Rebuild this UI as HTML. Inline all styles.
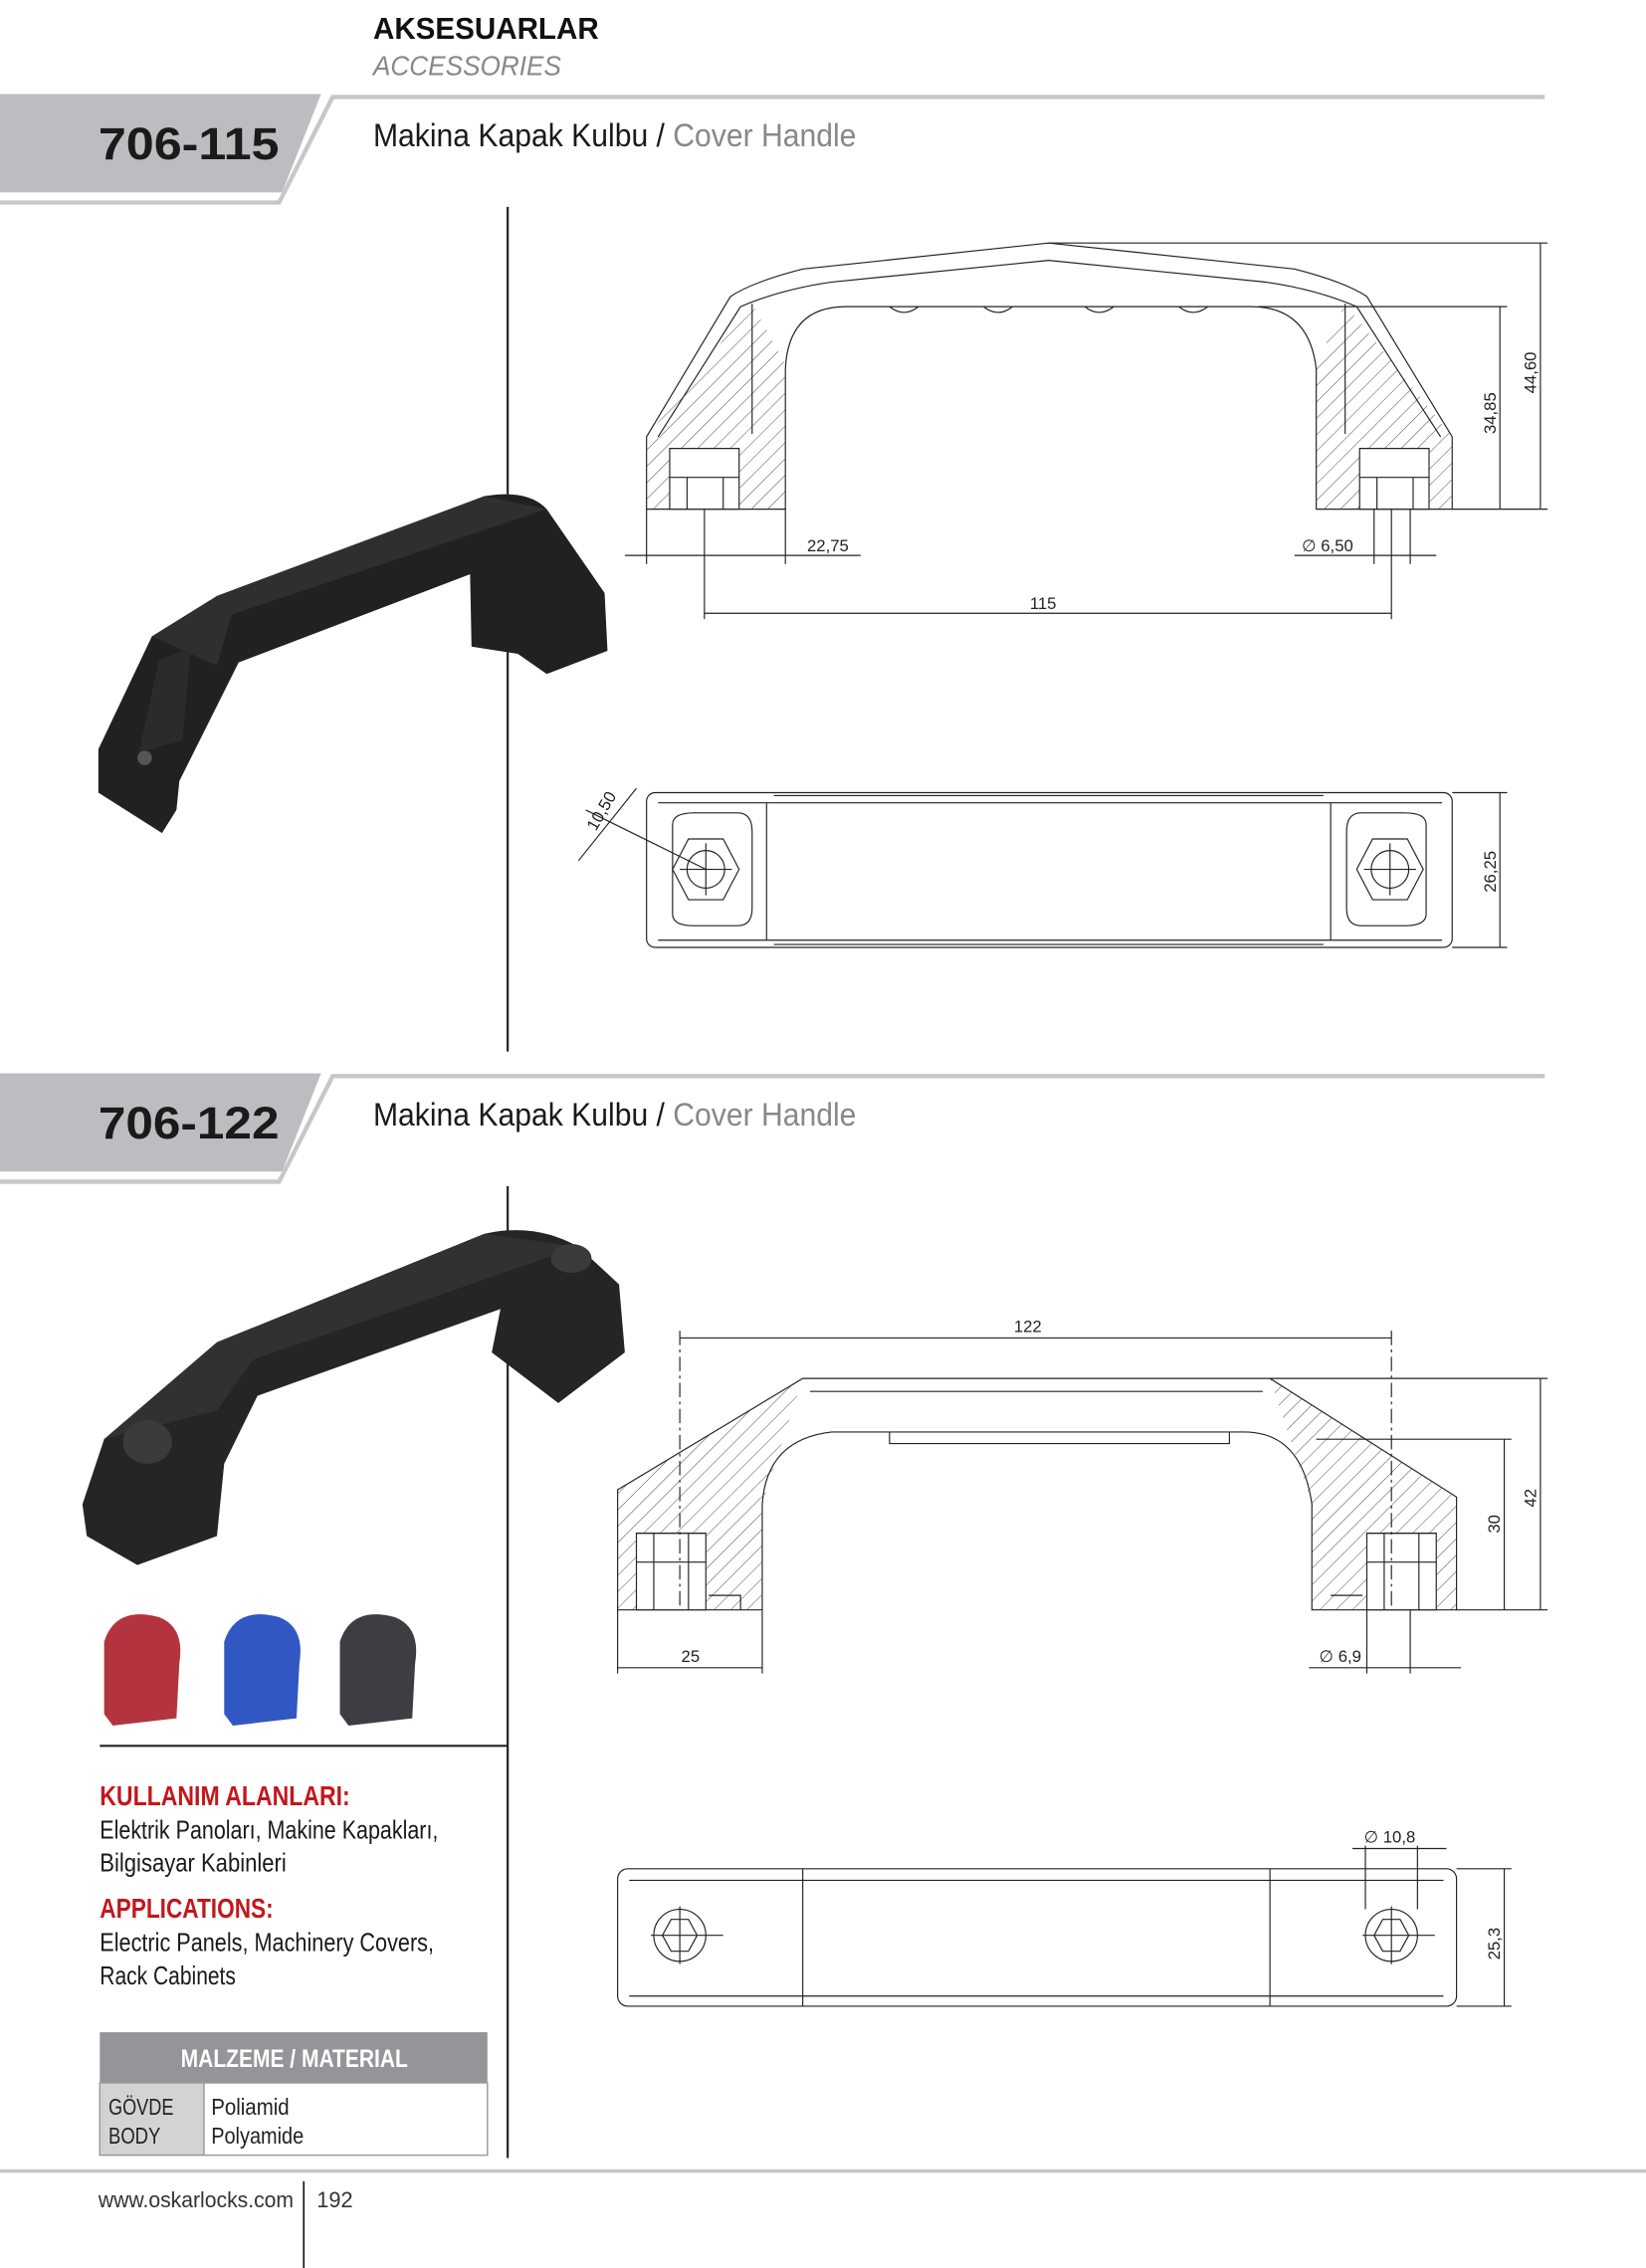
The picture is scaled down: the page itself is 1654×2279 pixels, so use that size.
<!DOCTYPE html>
<html><head><meta charset="utf-8"><style>
html,body{margin:0;padding:0;background:#fff}
svg{display:block}
.n{font-family:"Liberation Sans Narrow","Liberation Sans",sans-serif}
.s{font-family:"Liberation Sans",sans-serif}
</style></head><body>
<svg width="1654" height="2279" viewBox="0 0 1138 1568" xmlns="http://www.w3.org/2000/svg">
<defs>
<pattern id="h" width="8" height="8" patternUnits="userSpaceOnUse" patternTransform="rotate(45)">
<line x1="0" y1="0" x2="0" y2="8" stroke="#333" stroke-width="0.6"/></pattern>
</defs>
<!-- header -->
<text x="258" y="27" class="s" font-size="21" font-weight="bold" fill="#111" textLength="156" lengthAdjust="spacingAndGlyphs">AKSESUARLAR</text>
<text x="258" y="52" class="s" font-size="19" font-style="italic" fill="#888" textLength="130" lengthAdjust="spacingAndGlyphs">ACCESSORIES</text>

<!-- band 1 -->
<polygon points="0,65 222,65 195,133 0,133" fill="#bcbdc0"/>
<polyline points="0,140 193,140 230,67 1068,67" fill="none" stroke="#c6c7c9" stroke-width="3"/>
<text x="68" y="110" class="s" font-size="31" font-weight="bold" fill="#1a1a1a" textLength="125" lengthAdjust="spacingAndGlyphs">706-115</text>
<text x="258" y="101" class="n" font-size="22" fill="#1a1a1a" textLength="334" lengthAdjust="spacingAndGlyphs">Makina Kapak Kulbu / <tspan fill="#888">Cover Handle</tspan></text>
<line x1="351" y1="143" x2="351" y2="727" stroke="#222" stroke-width="1.5"/>

<!-- band 2 -->
<polygon points="0,742 222,742 195,810 0,810" fill="#bcbdc0"/>
<polyline points="0,817 193,817 230,744 1068,744" fill="none" stroke="#c6c7c9" stroke-width="3"/>
<text x="68" y="787" class="s" font-size="31" font-weight="bold" fill="#1a1a1a" textLength="125" lengthAdjust="spacingAndGlyphs">706-122</text>
<text x="258" y="778" class="n" font-size="22" fill="#1a1a1a" textLength="334" lengthAdjust="spacingAndGlyphs">Makina Kapak Kulbu / <tspan fill="#888">Cover Handle</tspan></text>
<line x1="351" y1="820" x2="351" y2="1492" stroke="#222" stroke-width="1.5"/>
<line x1="69" y1="1207" x2="351" y2="1207" stroke="#222" stroke-width="1.5"/>

<!-- photo handle 1 -->
<path d="M68,518 L105,440 L150,412 L335,343 Q365,338 378,352 L418,410 L420,450 L378,466 L358,452 L326,447 L325,397 L165,458 L124,540 L122,560 L112,576 L68,548 Z" fill="#202123"/>
<path d="M105,440 L150,412 L335,343 L378,352 L160,425 L150,460 Z" fill="#2e2f31"/>
<circle cx="100" cy="524" r="5" fill="#555"/>
<path d="M110,456 L132,448 L126,512 L96,520 Z" fill="#2a2b2d"/>

<!-- photo handle 2 -->
<path d="M57,1040 L72,995 L150,928 L335,853 Q370,845 400,862 L428,888 L432,935 L386,970 L340,935 L346,905 L178,965 L155,1012 L150,1062 L95,1082 L60,1062 Z" fill="#242527"/>
<path d="M72,995 L150,928 L335,853 L400,862 L175,940 L150,975 Z" fill="#303133"/>
<ellipse cx="102" cy="997" rx="17" ry="15" fill="#3a3b3d"/>
<ellipse cx="395" cy="870" rx="14" ry="10" fill="#3a3b3d"/>

<!-- caps -->
<path d="M72,1135 Q80,1110 110,1118 Q128,1125 124,1150 L122,1188 L78,1193 L72,1185 Z" fill="#b3343e"/>
<path d="M155,1135 Q163,1110 193,1118 Q211,1125 207,1150 L205,1188 L161,1193 L155,1185 Z" fill="#3157c2"/>
<path d="M235,1135 Q243,1110 273,1118 Q291,1125 287,1150 L285,1188 L241,1193 L235,1185 Z" fill="#3c3e43"/>

<!-- text block -->
<g class="n">
<text x="69" y="1248" font-size="19" font-weight="bold" fill="#c4161c" textLength="173" lengthAdjust="spacingAndGlyphs">KULLANIM ALANLARI:</text>
<text x="69" y="1271" font-size="18" fill="#1a1a1a" textLength="234" lengthAdjust="spacingAndGlyphs">Elektrik Panoları, Makine Kapakları,</text>
<text x="69" y="1294" font-size="18" fill="#1a1a1a" textLength="129" lengthAdjust="spacingAndGlyphs">Bilgisayar Kabinleri</text>
<text x="69" y="1326" font-size="19" font-weight="bold" fill="#c4161c" textLength="120" lengthAdjust="spacingAndGlyphs">APPLICATIONS:</text>
<text x="69" y="1349" font-size="18" fill="#1a1a1a" textLength="231" lengthAdjust="spacingAndGlyphs">Electric Panels, Machinery Covers,</text>
<text x="69" y="1372" font-size="18" fill="#1a1a1a" textLength="94" lengthAdjust="spacingAndGlyphs">Rack Cabinets</text>
</g>

<!-- table -->
<rect x="69" y="1405" width="268" height="35" fill="#939598"/>
<text x="125" y="1429" class="n" font-size="17" font-weight="bold" fill="#fff" textLength="157" lengthAdjust="spacingAndGlyphs">MALZEME / MATERIAL</text>
<rect x="69" y="1440" width="72" height="50" fill="#d1d3d4"/>
<rect x="69" y="1440" width="268" height="50" fill="none" stroke="#999" stroke-width="1"/>
<line x1="141" y1="1440" x2="141" y2="1490" stroke="#999"/>
<g class="n" font-size="16" fill="#222">
<text x="75" y="1462" textLength="45" lengthAdjust="spacingAndGlyphs">GÖVDE</text>
<text x="75" y="1482" textLength="36" lengthAdjust="spacingAndGlyphs">BODY</text>
<text x="146" y="1462" textLength="54" lengthAdjust="spacingAndGlyphs">Poliamid</text>
<text x="146" y="1482" textLength="64" lengthAdjust="spacingAndGlyphs">Polyamide</text>
</g>

<!-- footer -->
<line x1="0" y1="1501" x2="1138" y2="1501" stroke="#c6c7c9" stroke-width="2.5"/>
<text x="68" y="1526" class="s" font-size="15" fill="#333" textLength="135" lengthAdjust="spacingAndGlyphs">www.oskarlocks.com</text>
<line x1="210" y1="1508" x2="210" y2="1568" stroke="#222" stroke-width="1.2"/>
<text x="219" y="1526" class="s" font-size="15" fill="#333" textLength="25" lengthAdjust="spacingAndGlyphs">192</text>

<g fill="none" stroke="#222" stroke-width="0.8" class="s">
<!-- drawing 1 side -->
<path d="M447,302 L505,205 Q520,195 555,186 L725,168 L895,186 Q930,195 945,205 L1004,302 L1004,352 L910,352 L910,255 Q905,212 865,212 L585,212 Q545,212 543,255 L543,352 L447,352 Z"/>
<path d="M455,302 L512,212 Q540,200 575,195 L725,180 L875,195 Q910,200 938,212 L996,302"/>
<path d="M447,302 L520,210 L543,252 L543,352 L447,352 Z" fill="url(#h)" stroke="none"/>
<path d="M1004,302 L930,210 L910,252 L910,352 L1004,352 Z" fill="url(#h)" stroke="none"/>
<rect x="463" y="310" width="48" height="42" fill="#fff"/>
<rect x="940" y="310" width="48" height="42" fill="#fff"/>
<path d="M463,310 L511,310 M463,330 L511,330 M475,330 L475,352 M500,330 L500,352 M940,310 L988,310 M940,330 L988,330 M952,330 L952,352 M977,330 L977,352"/>
<path d="M520,210 L520,300 M930,210 L930,300"/>
<path d="M615,212 Q625,220 635,212 M680,212 Q690,220 700,212 M750,212 Q760,220 770,212 M815,212 Q825,220 835,212"/>
<!-- dims 1 -->
<path d="M725,168 L1070,168 M870,212 L1042,212 M1004,352 L1070,352 M1065,168 L1065,352 M1037,212 L1037,352"/>
<path d="M432,384 L595,384 M487,352 L487,428 M447,352 L447,390 M543,352 L543,390 M487,424 L962,424 M962,352 L962,428 M895,384 L993,384 M950,352 L950,390 M975,352 L975,390"/>
<!-- drawing 1 top -->
<rect x="447" y="548" width="557" height="107" rx="6"/>
<path d="M455,555 L530,555 L530,650 L455,650 M530,555 L920,555 L920,650 L530,650 M535,550 L915,550 M535,653 L915,653 M920,555 L997,555 M920,650 L997,650"/>
<path d="M465,570 Q465,562 480,562 L510,562 Q520,562 520,575 L520,628 Q520,640 510,640 L480,640 Q465,640 465,632 Z"/>
<path d="M986,570 Q986,562 971,562 L941,562 Q931,562 931,575 L931,628 Q931,640 941,640 L971,640 Q986,640 986,632 Z"/>
<polygon points="465,601 476,580 500,580 511,601 500,622 476,622"/>
<polygon points="938,601 949,580 973,580 984,601 973,622 949,622"/>
<circle cx="488" cy="601" r="13"/><circle cx="961" cy="601" r="13"/>
<path d="M470,601 L506,601 M488,583 L488,619 M943,601 L979,601 M961,583 L961,619"/>
<path d="M1004,548 L1042,548 M1004,655 L1042,655 M1037,548 L1037,655 M400,595 L440,545 M405,560 L488,601"/>
<!-- drawing 2 side -->
<path d="M427,1030 L555,953 L878,953 L1007,1035 L1007,1113 L907,1113 L907,1040 Q900,990 860,990 L575,990 Q530,995 527,1040 L527,1113 L427,1113 Z"/>
<path d="M560,962 L873,962 M615,990 L615,998 L850,998 L850,990"/>
<path d="M427,1030 L555,953 L527,1040 L527,1113 L427,1113 Z" fill="url(#h)" stroke="none"/>
<path d="M1007,1035 L878,953 L907,1040 L907,1113 L1007,1113 Z" fill="url(#h)" stroke="none"/>
<rect x="440" y="1060" width="48" height="53" fill="#fff"/>
<rect x="945" y="1060" width="48" height="53" fill="#fff"/>
<path d="M440,1060 L488,1060 M452,1060 L452,1113 M476,1060 L476,1113 M440,1080 L488,1080 M945,1060 L993,1060 M957,1060 L957,1113 M981,1060 L981,1113 M945,1080 L993,1080 M490,1103 L512,1103 L512,1113 M920,1103 L942,1103"/>
<path d="M470,920 L470,1113 M962,920 L962,1113" stroke-dasharray="10,3,2,3"/>
<path d="M470,925 L962,925 M878,953 L1070,953 M1007,1113 L1070,1113 M1065,953 L1065,1113 M910,995 L1045,995 M1040,995 L1040,1113"/>
<path d="M427,1113 L427,1157 M527,1113 L527,1157 M427,1153 L527,1153 M945,1113 L945,1157 M975,1113 L975,1157 M905,1153 L1010,1153"/>
<!-- drawing 2 top -->
<rect x="427" y="1292" width="580" height="95" rx="7"/>
<path d="M435,1300 L998,1300 M435,1380 L998,1380 M555,1292 L555,1387 M878,1292 L878,1387"/>
<circle cx="470" cy="1338" r="18"/><circle cx="962" cy="1338" r="18"/>
<polygon points="458,1338 464,1327 476,1327 482,1338 476,1349 464,1349"/>
<polygon points="950,1338 956,1327 968,1327 974,1338 968,1349 956,1349"/>
<path d="M450,1338 L500,1338 M470,1318 L470,1358 M942,1338 L992,1338 M962,1318 L962,1358"/>
<path d="M944,1276 L944,1320 M980,1276 L980,1320 M935,1278 L1000,1278 M1007,1292 L1045,1292 M1007,1387 L1045,1387 M1040,1292 L1040,1387"/>
</g>
<!-- dim labels -->
<g class="s" font-size="11.5" fill="#222">
<text x="558" y="381">22,75</text>
<text x="900" y="381">∅ 6,50</text>
<text x="712" y="421">115</text>
<text transform="translate(1062,272) rotate(-90)">44,60</text>
<text transform="translate(1034,300) rotate(-90)">34,85</text>
<text transform="translate(1034,617) rotate(-90)">26,25</text>
<text transform="translate(412,575) rotate(-60)">10,50</text>
<text x="701" y="921">122</text>
<text transform="translate(1062,1042) rotate(-90)">42</text>
<text transform="translate(1037,1060) rotate(-90)">30</text>
<text x="471" y="1149">25</text>
<text x="912" y="1149">∅ 6,9</text>
<text x="943" y="1274">∅ 10,8</text>
<text transform="translate(1037,1355) rotate(-90)">25,3</text>
</g>
</svg>
</body></html>
